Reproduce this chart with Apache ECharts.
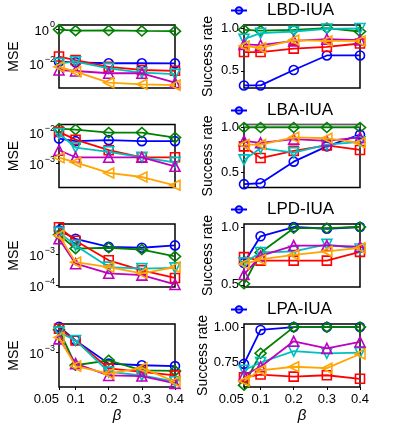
<!DOCTYPE html>
<html><head><meta charset="utf-8">
<script src="https://cdn.jsdelivr.net/npm/echarts@6/dist/echarts.min.js"></script>
<style>html,body{margin:0;padding:0;background:#fff}#c{width:399px;height:426px}</style>
</head><body><div id="c"></div>
<script>
// beta values (x) and tick labels
const betas = [0.05, 0.1, 0.2, 0.3, 0.4];
const xTicks = [0.05, 0.1, 0.2, 0.3, 0.4];
const rowNames = ['LBD-IUA', 'LBA-IUA', 'LPD-IUA', 'LPA-IUA'];
// series order: blue, green, red, cyan, magenta, orange
const lbdMse = [
  [0.012, 0.011, 0.0097, 0.0097, 0.0095],
  [0.92, 0.8, 0.82, 0.77, 0.75],
  [0.024, 0.015, 0.006, 0.0039, 0.0035],
  [0.0095, 0.012, 0.0049, 0.0027, 0.0022],
  [0.0039, 0.0034, 0.0025, 0.0025, 0.0007],
  [0.006, 0.0031, 0.0007, 0.00056, 0.0005]
];
const lbdSr = [
  [0.33, 0.33, 0.51, 0.68, 0.68],
  [0.98, 0.97, 0.98, 1.0, 0.96],
  [0.72, 0.72, 0.76, 0.78, 0.82],
  [0.87, 0.94, 0.96, 0.99, 0.995],
  [0.81, 0.80, 0.85, 0.87, 0.86],
  [0.79, 0.77, 0.86, 0.85, 0.85]
];
const lbaMse = [
  [0.0064, 0.0053, 0.0057, 0.0053, 0.0053],
  [0.0135, 0.0125, 0.01, 0.01, 0.0069],
  [0.0105, 0.0059, 0.0027, 0.0016, 0.0016],
  [0.0093, 0.0033, 0.0024, 0.0016, 0.0011],
  [0.0027, 0.0016, 0.0016, 0.0016, 0.00082],
  [0.00156, 0.0011, 0.0005, 0.00037, 0.0002]
];
const lbaSr = [
  [0.37, 0.38, 0.62, 0.79, 0.92],
  [1.0, 1.0, 1.0, 1.0, 1.0],
  [0.79, 0.66, 0.74, 0.80, 0.75],
  [0.64, 0.77, 0.72, 0.81, 0.84],
  [0.85, 0.83, 0.87, 0.85, 0.89],
  [0.81, 0.81, 0.89, 0.88, 0.83]
];
const lpdMse = [
  [0.0058, 0.0031, 0.0017, 0.0016, 0.0019],
  [0.0042, 0.0015, 0.0016, 0.0014, 0.00084],
  [0.0073, 0.0027, 0.00063, 0.0003, 0.00017],
  [0.005, 0.0019, 0.00038, 0.00034, 0.00036],
  [0.0031, 0.00049, 0.00024, 0.00021, 0.000105],
  [0.004, 0.00055, 0.00038, 0.00024, 0.00038]
];
const lpdSr = [
  [0.69, 0.92, 1.0, 0.985, 1.0],
  [0.51, 0.78, 0.99, 0.99, 1.0],
  [0.74, 0.71, 0.71, 0.71, 0.785],
  [0.69, 0.78, 0.79, 0.85, 0.81],
  [0.59, 0.75, 0.84, 0.84, 0.83],
  [0.68, 0.72, 0.76, 0.79, 0.82]
];
const lpaMse = [
  [0.0027, 0.0016, 0.00066, 0.00062, 0.0006],
  [0.0024, 0.00062, 0.00075, 0.00051, 0.0005],
  [0.0025, 0.0016, 0.00055, 0.00048, 0.00042],
  [0.0022, 0.0016, 0.00048, 0.00042, 0.00033],
  [0.0017, 0.00066, 0.00042, 0.00041, 0.00031],
  [0.0018, 0.0006, 0.00045, 0.00056, 0.00033]
];
const lpaSr = [
  [0.74, 0.98, 1.0, 1.0, 1.0],
  [0.59, 0.815, 1.0, 1.0, 1.0],
  [0.645, 0.665, 0.65, 0.66, 0.635],
  [0.695, 0.75, 0.83, 0.815, 0.82],
  [0.66, 0.72, 0.90, 0.85, 0.895],
  [0.62, 0.695, 0.72, 0.71, 0.81]
];
// axis ranges and ticks
const mseMin = [3.4e-4, 1.7e-4, 8.7e-5, 2.7e-4];
const mseMax = [1.72, 1.82e-2, 9.3e-3, 3.0e-3];
const mseTicks = [[1, 0.01], [0.01, 0.001], [0.001, 0.0001], [0.001]];
const srMin = [0.30, 0.333, 0.482, 0.577];
const srMax = [1.036, 1.033, 1.026, 1.022];
const srTicks = [[0.5, 1.0], [0.5, 1.0], [0.5, 1.0], [0.75, 1.0]];

const mseRows = [lbdMse, lbaMse, lpdMse, lpaMse];
const srRows = [lbdSr, lbaSr, lpdSr, lpaSr];

const styles = [
  { color: '#0000ff', symbol: 'circle', size: 9, rot: 0 },
  { color: '#008000', symbol: 'diamond', size: [11, 10], rot: 0 },
  { color: '#ff0000', symbol: 'rect', size: 9, rot: 0 },
  { color: '#00bfbf', symbol: 'triangle', size: 10, rot: 180 },
  { color: '#bf00bf', symbol: 'triangle', size: 10, rot: 0 },
  { color: '#ffa500', symbol: 'triangle', size: 10, rot: 90 }
];
const FONT = '"Liberation Sans", Arial, sans-serif';
const rowTop = [25, 124.5, 224, 324];
const legendTop = [2, 102, 201, 301];
const plotH = 63, plotW = 116, leftX = 59, rightX = 244;

const grid = [], xAxis = [], yAxis = [], series = [], legend = [];
function supLabel(v) {
  const e = Math.round(Math.log10(v));
  return '{b|10}{s|' + (e < 0 ? '\u2212' + (-e) : e) + '}';
}
for (let r = 0; r < 4; r++) {
  const bottom = r === 3;
  [leftX, rightX].forEach((gx, side) => {
    const gi = 2 * r + side;
    grid.push({ left: gx, top: rowTop[r], width: plotW, height: plotH, show: true,
      borderColor: '#000', borderWidth: 1.5, backgroundColor: '#fff' });
    xAxis.push({
      type: 'value', gridIndex: gi, min: 0.05, max: 0.4,
      splitLine: { show: false }, axisLine: { show: false },
      axisTick: { show: bottom, customValues: xTicks, length: 3, lineStyle: { color: '#000' } },
      axisLabel: { show: bottom, customValues: xTicks, fontSize: 13, color: '#000', fontFamily: FONT,
        margin: 6, alignMinLabel: 'right', formatter: v => String(+v.toFixed(2)) },
      name: bottom ? '\u03b2' : '', nameLocation: 'middle', nameGap: 21,
      nameTextStyle: { fontSize: 15, fontStyle: 'italic', color: '#000', fontFamily: FONT }
    });
    if (side === 0) {
      yAxis.push({
        type: 'log', logBase: 10, gridIndex: gi, min: mseMin[r], max: mseMax[r],
        splitLine: { show: false }, axisLine: { show: false },
        axisTick: { show: true, customValues: mseTicks[r], length: 3, lineStyle: { color: '#000' } },
        axisLabel: { customValues: mseTicks[r], margin: 4, color: '#000', formatter: supLabel,
          rich: { b: { fontSize: 13, fontFamily: FONT, color: '#000', lineHeight: 17, verticalAlign: 'bottom' },
                  s: { fontSize: 9, fontFamily: FONT, color: '#000', lineHeight: 9, verticalAlign: 'top', padding: [0, 0, 0, 1] } } },
        name: 'MSE', nameLocation: 'middle', nameGap: 38,
        nameTextStyle: { fontSize: 14, color: '#000', fontFamily: FONT }
      });
    } else {
      yAxis.push({
        type: 'value', gridIndex: gi, min: srMin[r], max: srMax[r],
        splitLine: { show: false }, axisLine: { show: false },
        axisTick: { show: true, customValues: srTicks[r], length: 3, lineStyle: { color: '#000' } },
        axisLabel: { customValues: srTicks[r], margin: 5, fontSize: 13, color: '#000', fontFamily: FONT,
          formatter: v => v.toFixed(r === 3 ? 2 : 1) },
        name: 'Success rate', nameLocation: 'middle', nameGap: 29,
        nameTextStyle: { fontSize: 14, color: '#000', fontFamily: FONT }
      });
    }
    const rows = side === 0 ? mseRows[r] : srRows[r];
    rows.forEach((vals, k) => {
      const st = styles[k];
      const s = {
        type: 'line', xAxisIndex: gi, yAxisIndex: gi,
        name: k === 0 ? rowNames[r] : rowNames[r] + '-' + k,
        data: betas.map((b, i) => [b, vals[i]]),
        symbol: st.symbol, symbolSize: st.size, symbolRotate: st.rot, showSymbol: true,
        lineStyle: { color: st.color, width: 1.8 },
        itemStyle: { color: 'rgba(255,255,255,0)', borderColor: st.color, borderWidth: 1.6 },
        clip: true, z: 2 + k
      };
      if (side === 1 && r === 1 && k === 1) {
        s.markArea = { silent: true, itemStyle: { color: '#bdbdbd' },
          data: [[{ yAxis: 1.0 }, { yAxis: srMax[r] }]] };
      }
      series.push(s);
    });
  });
  legend.push({
    data: [rowNames[r]], left: 230, top: legendTop[r], itemWidth: 16, itemHeight: 8,
    selectedMode: false, padding: 0,
    textStyle: { fontSize: 17, color: '#000', fontFamily: FONT, padding: [0, 0, 0, 15] }
  });
}
const chart = echarts.init(document.getElementById('c'), null, { renderer: 'canvas' });
chart.setOption({ animation: false, backgroundColor: '#fff', grid, xAxis, yAxis, series, legend });
</script>
</body></html>
